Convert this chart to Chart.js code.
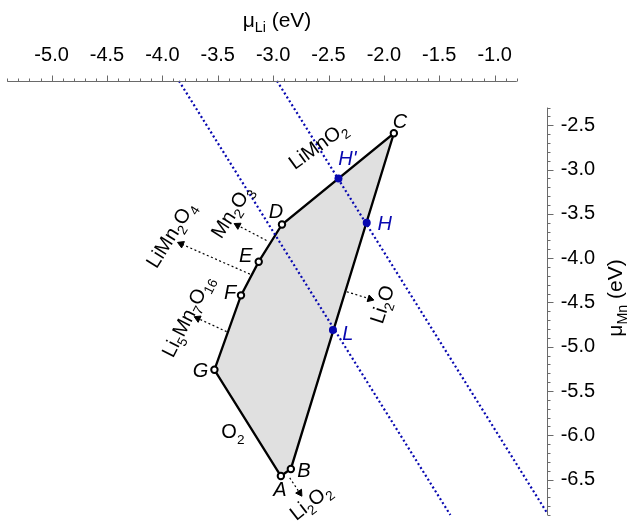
<!DOCTYPE html>
<html>
<head>
<meta charset="utf-8">
<style>
  html, body { margin: 0; padding: 0; background: #fff; }
</style>
</head>
<body>
<canvas id="myChart" width="641" height="521"></canvas>
<script src="https://cdn.jsdelivr.net/npm/chart.js"></script>
<script>
// corners of the stable region (muLi, muMn in eV)
const vertexNames = ['A', 'B', 'C', 'D', 'E', 'F', 'G'];
const vertexLi = [-2.93, -2.84, -1.91, -2.92, -3.13, -3.29, -3.53];
const vertexMn = [-6.46, -6.38, -2.59, -3.62, -4.04, -4.42, -5.26];

// blue points
const pointNames = ["H'", 'H', 'L'];
const pointLi = [-2.41, -2.155, -2.46];
const pointMn = [-3.10, -3.60, -4.81];

// two dotted lines, end points
const lineALi = [-3.85, -1.40];
const lineAMn = [-2.00, -6.90];
const lineBLi = [-2.965, -0.525];
const lineBMn = [-2.00, -6.88];

// competing phases, arrow tail -> head
const arrowFromLi = [-3.06, -3.21, -3.42, -2.335, -2.85];
const arrowFromMn = [-3.80, -4.18, -4.83, -4.38, -6.48];
const arrowToLi = [-3.32, -3.83, -3.68, -2.125, -2.76];
const arrowToMn = [-3.63, -3.84, -4.68, -4.46, -6.65];

const xTicks = [-5.0, -4.5, -4.0, -3.5, -3.0, -2.5, -2.0, -1.5, -1.0];
const yTicks = [-6.5, -6.0, -5.5, -5.0, -4.5, -4.0, -3.5, -3.0, -2.5];

const FONT = "'Liberation Sans', Arial, sans-serif";
const BLUE = '#0808b0';

// label placement
const vertexOffsets = [[-1, 13], [13, 1], [6, -12], [-6, -14], [-13, -7], [-11, -4], [-14, 0]];
const pointOffsets = [[9, -21], [18, 0], [15, 3]];
const phaseLabels = [
  { text: 'LiMnO_2', x: -2.60, y: -2.72, angle: -36 },
  { text: 'Mn_2O_3', x: -3.38, y: -3.47, angle: -57 },
  { text: 'LiMn_2O_4', x: -3.93, y: -3.73, angle: -58 },
  { text: 'Li_5Mn_7O_16', x: -3.78, y: -4.65, angle: -63 },
  { text: 'Li_2O', x: -2.02, y: -4.52, angle: -72 },
  { text: 'Li_2O_2', x: -2.667, y: -6.745, angle: -38 },
  { text: 'O_2', x: -3.363, y: -5.953, angle: 0 }
];

function parts(str) {
  return str.split(/_(\d+|[A-Z][a-z]*)/).map((t, i) => [t, i % 2 === 1]).filter(p => p[0] !== '');
}

function drawRich(ctx, str, cx, cy, angle, size, italic, color) {
  const segs = parts(str);
  const fontOf = sub => (italic ? 'italic ' : '') + (sub ? size * 0.68 : size) + 'px ' + FONT;
  let total = 0;
  const widths = segs.map(([t, sub]) => {
    ctx.font = fontOf(sub);
    const w = ctx.measureText(t).width;
    total += w;
    return w;
  });
  ctx.save();
  ctx.translate(cx, cy);
  ctx.rotate(angle * Math.PI / 180);
  ctx.fillStyle = color;
  ctx.textBaseline = 'alphabetic';
  ctx.textAlign = 'left';
  let x = -total / 2;
  const base = size * 0.36;
  segs.forEach(([t, sub], i) => {
    ctx.font = fontOf(sub);
    ctx.fillText(t, x, base + (sub ? size * 0.27 : 0));
    x += widths[i];
  });
  ctx.restore();
}

// axis lines with minor ticks, titles and text labels
const decor = {
  id: 'decor',
  afterDraw(chart) {
    const { ctx, chartArea: area, scales: { x, y } } = chart;
    ctx.save();
    ctx.strokeStyle = '#6a6a6a';
    ctx.lineWidth = 1;
    ctx.beginPath();
    const ax = Math.round(area.top) + 0.5;
    ctx.moveTo(x.getPixelForValue(-5.4), ax);
    ctx.lineTo(x.getPixelForValue(-0.8), ax);
    for (let k = -54; k <= -8; k++) {
      const px = Math.round(x.getPixelForValue(k / 10)) + 0.5;
      ctx.moveTo(px, ax);
      ctx.lineTo(px, ax - (k % 5 === 0 ? 6 : 3));
    }
    const ay = Math.round(area.right) + 0.5;
    ctx.moveTo(ay, y.getPixelForValue(-6.9));
    ctx.lineTo(ay, y.getPixelForValue(-2.3));
    for (let k = -69; k <= -23; k++) {
      const py = Math.round(y.getPixelForValue(k / 10)) + 0.5;
      ctx.moveTo(ay, py);
      ctx.lineTo(ay + (k % 5 === 0 ? 6 : 3), py);
    }
    ctx.stroke();
    ctx.restore();

    drawRich(ctx, 'μ_Li (eV)', (area.left + area.right) / 2, 19, 0, 21, false, '#000');
    drawRich(ctx, 'μ_Mn (eV)', 614, (area.top + area.bottom) / 2, -90, 21, false, '#000');

    vertexNames.forEach((n, i) => {
      drawRich(ctx, n, x.getPixelForValue(vertexLi[i]) + vertexOffsets[i][0],
        y.getPixelForValue(vertexMn[i]) + vertexOffsets[i][1], 0, 20, true, '#000');
    });
    pointNames.forEach((n, i) => {
      drawRich(ctx, n, x.getPixelForValue(pointLi[i]) + pointOffsets[i][0],
        y.getPixelForValue(pointMn[i]) + pointOffsets[i][1], 0, 20, true, BLUE);
    });
    phaseLabels.forEach(l => {
      drawRich(ctx, l.text, x.getPixelForValue(l.x), y.getPixelForValue(l.y), l.angle, 20, false, '#000');
    });
  }
};

const region = vertexLi.map((v, i) => ({ x: v, y: vertexMn[i] }));
region.push(region[0]);

const datasets = [
  {
    data: region, showLine: true, fill: 'shape', backgroundColor: '#e0e0e0',
    borderColor: '#000', borderWidth: 2.3, pointRadius: 0, order: 10
  },
  {
    data: lineALi.map((v, i) => ({ x: v, y: lineAMn[i] })), showLine: true,
    borderColor: BLUE, borderWidth: 2.2, borderDash: [2, 2.6], pointRadius: 0, order: 9
  },
  {
    data: lineBLi.map((v, i) => ({ x: v, y: lineBMn[i] })), showLine: true,
    borderColor: BLUE, borderWidth: 2.2, borderDash: [2, 2.6], pointRadius: 0, order: 9
  }
];

arrowFromLi.forEach((v, i) => {
  datasets.push({
    data: [{ x: v, y: arrowFromMn[i] }, { x: arrowToLi[i], y: arrowToMn[i] }],
    showLine: true, borderColor: '#000', borderWidth: 1.2, borderDash: [2, 2.5],
    pointRadius: [0, 4], pointStyle: 'triangle', pointBackgroundColor: '#000',
    pointBorderColor: '#000', pointBorderWidth: 1,
    pointRotation(ctx) {
      const d = ctx.dataset.data, s = ctx.chart.scales;
      const dx = s.x.getPixelForValue(d[1].x) - s.x.getPixelForValue(d[0].x);
      const dy = s.y.getPixelForValue(d[1].y) - s.y.getPixelForValue(d[0].y);
      return Math.atan2(dy, dx) * 180 / Math.PI + 90;
    },
    order: 8
  });
});

datasets.push({
  data: vertexLi.map((v, i) => ({ x: v, y: vertexMn[i] })),
  pointRadius: 3.2, pointBorderWidth: 2, pointBackgroundColor: '#fff', pointBorderColor: '#000', order: 2
});
datasets.push({
  data: pointLi.map((v, i) => ({ x: v, y: pointMn[i] })),
  pointRadius: 4, pointBorderWidth: 0, pointBackgroundColor: BLUE, pointBorderColor: BLUE, order: 1
});
datasets.forEach(d => { d.clip = false; });

new Chart(document.getElementById('myChart'), {
  type: 'scatter',
  data: { datasets: datasets },
  options: {
    responsive: false,
    animation: false,
    layout: { padding: { left: 7.3, right: 0, top: 0, bottom: 4 } },
    plugins: { legend: { display: false }, tooltip: { enabled: false } },
    scales: {
      x: {
        type: 'linear', position: 'top', min: -5.4, max: -0.53,
        grid: { display: false, drawTicks: false }, border: { display: false },
        ticks: {
          padding: 14, color: '#000', font: { family: FONT, size: 20 },
          maxRotation: 0, autoSkip: false, callback: v => v.toFixed(1)
        },
        afterBuildTicks: s => { s.ticks = xTicks.map(v => ({ value: v })); },
        afterFit: s => { s.height = 81; s.paddingLeft = 0; s.paddingRight = 0; }
      },
      y: {
        type: 'linear', position: 'right', min: -6.9, max: -2.0,
        grid: { display: false, drawTicks: false }, border: { display: false },
        ticks: {
          padding: 14, color: '#000', font: { family: FONT, size: 20 },
          autoSkip: false, callback: v => v.toFixed(1)
        },
        afterBuildTicks: s => { s.ticks = yTicks.map(v => ({ value: v })); },
        afterFit: s => { s.width = 94.3; s.paddingTop = 0; s.paddingBottom = 0; }
      }
    }
  },
  plugins: [decor]
});
</script>
</body>
</html>
